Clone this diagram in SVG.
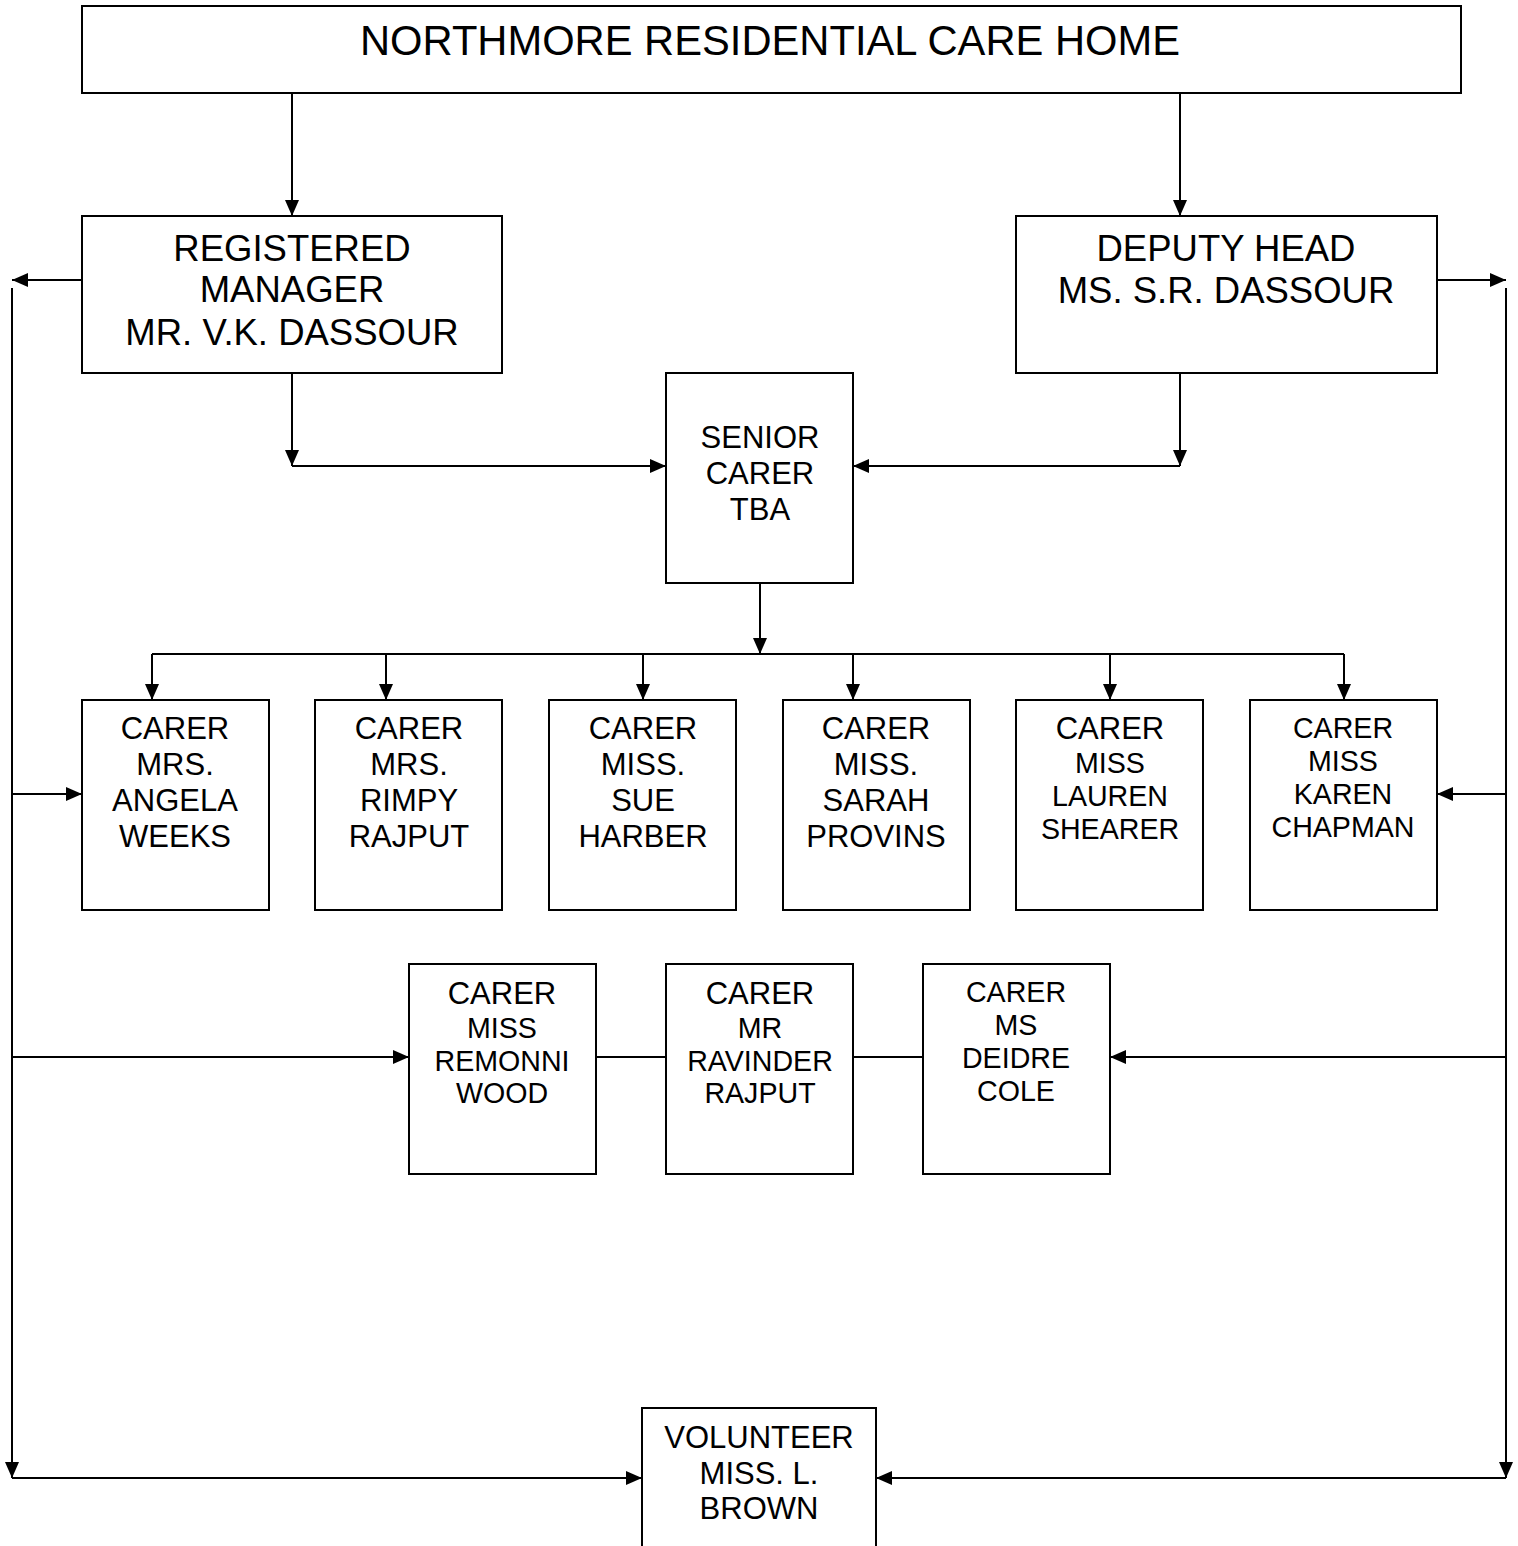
<svg xmlns="http://www.w3.org/2000/svg" width="1518" height="1546" viewBox="0 0 1518 1546">
<style>
.box{fill:#fff;stroke:#000;stroke-width:2}
.ln{fill:none;stroke:#000;stroke-width:2}
text{font-family:"Liberation Sans",Arial,sans-serif;fill:#000;text-anchor:middle}
.t40{font-size:41.7px}
.t34{font-size:36.5px}
.t29{font-size:31px}
.t27{font-size:28.6px}
</style>
<defs>
<marker id="ah" markerUnits="userSpaceOnUse" markerWidth="16" markerHeight="14" refX="16" refY="7" orient="auto" viewBox="0 0 16 14">
<path d="M0,0 L16,7 L0,14 z" fill="#000"/>
</marker>
</defs>
<g id="connectors">
<path class="ln" d="M292,93 V216" marker-end="url(#ah)"/>
<path class="ln" d="M1180,93 V216" marker-end="url(#ah)"/>
<path class="ln" d="M82,280 H12" marker-end="url(#ah)"/>
<path class="ln" d="M1437,280 H1506" marker-end="url(#ah)"/>
<path class="ln" d="M12,288 V1478" marker-end="url(#ah)"/>
<path class="ln" d="M1506,288 V1478" marker-end="url(#ah)"/>
<path class="ln" d="M292,373 V466" marker-end="url(#ah)"/>
<path class="ln" d="M292,466 H666" marker-end="url(#ah)"/>
<path class="ln" d="M1180,373 V466" marker-end="url(#ah)"/>
<path class="ln" d="M1180,466 H853" marker-end="url(#ah)"/>
<path class="ln" d="M760,583 V654" marker-end="url(#ah)"/>
<path class="ln" d="M152,654 H1344"/>
<path class="ln" d="M152,654 V700" marker-end="url(#ah)"/>
<path class="ln" d="M386,654 V700" marker-end="url(#ah)"/>
<path class="ln" d="M643,654 V700" marker-end="url(#ah)"/>
<path class="ln" d="M853,654 V700" marker-end="url(#ah)"/>
<path class="ln" d="M1110,654 V700" marker-end="url(#ah)"/>
<path class="ln" d="M1344,654 V700" marker-end="url(#ah)"/>
<path class="ln" d="M12,794 H82" marker-end="url(#ah)"/>
<path class="ln" d="M1506,794 H1437" marker-end="url(#ah)"/>
<path class="ln" d="M12,1057 H409" marker-end="url(#ah)"/>
<path class="ln" d="M596,1057 H666"/>
<path class="ln" d="M853,1057 H923"/>
<path class="ln" d="M1506,1057 H1110" marker-end="url(#ah)"/>
<path class="ln" d="M12,1478 H642" marker-end="url(#ah)"/>
<path class="ln" d="M1506,1478 H876" marker-end="url(#ah)"/>
</g>
<g id="title">
<rect class="box" x="82" y="6" width="1379" height="87"/>
<text class="t40" x="770" y="55">NORTHMORE RESIDENTIAL CARE HOME</text>
</g>
<g id="registered-manager">
<rect class="box" x="82" y="216" width="420" height="157"/>
<text class="t34" x="292" y="261">REGISTERED</text>
<text class="t34" x="292" y="302">MANAGER</text>
<text class="t34" x="292" y="345">MR. V.K. DASSOUR</text>
</g>
<g id="deputy-head">
<rect class="box" x="1016" y="216" width="421" height="157"/>
<text class="t34" x="1226" y="261">DEPUTY HEAD</text>
<text class="t34" x="1226" y="303">MS. S.R. DASSOUR</text>
</g>
<g id="senior-carer">
<rect class="box" x="666" y="373" width="187" height="210"/>
<text class="t29" x="760" y="448">SENIOR</text>
<text class="t29" x="760" y="484">CARER</text>
<text class="t29" x="760" y="520">TBA</text>
</g>
<g id="carer-angela-weeks">
<rect class="box" x="82" y="700" width="187" height="210"/>
<text class="t29" x="175" y="739">CARER</text>
<text class="t29" x="175" y="775">MRS.</text>
<text class="t29" x="175" y="811">ANGELA</text>
<text class="t29" x="175" y="847">WEEKS</text>
</g>
<g id="carer-rimpy-rajput">
<rect class="box" x="315" y="700" width="187" height="210"/>
<text class="t29" x="409" y="739">CARER</text>
<text class="t29" x="409" y="775">MRS.</text>
<text class="t29" x="409" y="811">RIMPY</text>
<text class="t29" x="409" y="847">RAJPUT</text>
</g>
<g id="carer-sue-harber">
<rect class="box" x="549" y="700" width="187" height="210"/>
<text class="t29" x="643" y="739">CARER</text>
<text class="t29" x="643" y="775">MISS.</text>
<text class="t29" x="643" y="811">SUE</text>
<text class="t29" x="643" y="847">HARBER</text>
</g>
<g id="carer-sarah-provins">
<rect class="box" x="783" y="700" width="187" height="210"/>
<text class="t29" x="876" y="739">CARER</text>
<text class="t29" x="876" y="775">MISS.</text>
<text class="t29" x="876" y="811">SARAH</text>
<text class="t29" x="876" y="847">PROVINS</text>
</g>
<g id="carer-lauren-shearer">
<rect class="box" x="1016" y="700" width="187" height="210"/>
<text class="t29" x="1110" y="739">CARER</text>
<text class="t27" x="1110" y="773">MISS</text>
<text class="t27" x="1110" y="806">LAUREN</text>
<text class="t27" x="1110" y="839">SHEARER</text>
</g>
<g id="carer-karen-chapman">
<rect class="box" x="1250" y="700" width="187" height="210"/>
<text class="t27" x="1343" y="738">CARER</text>
<text class="t27" x="1343" y="771">MISS</text>
<text class="t27" x="1343" y="804">KAREN</text>
<text class="t27" x="1343" y="837">CHAPMAN</text>
</g>
<g id="carer-remonni-wood">
<rect class="box" x="409" y="964" width="187" height="210"/>
<text class="t29" x="502" y="1004">CARER</text>
<text class="t27" x="502" y="1038">MISS</text>
<text class="t27" x="502" y="1071">REMONNI</text>
<text class="t27" x="502" y="1103">WOOD</text>
</g>
<g id="carer-ravinder-rajput">
<rect class="box" x="666" y="964" width="187" height="210"/>
<text class="t29" x="760" y="1004">CARER</text>
<text class="t27" x="760" y="1038">MR</text>
<text class="t27" x="760" y="1071">RAVINDER</text>
<text class="t27" x="760" y="1103">RAJPUT</text>
</g>
<g id="carer-deidre-cole">
<rect class="box" x="923" y="964" width="187" height="210"/>
<text class="t27" x="1016" y="1002">CARER</text>
<text class="t27" x="1016" y="1035">MS</text>
<text class="t27" x="1016" y="1068">DEIDRE</text>
<text class="t27" x="1016" y="1101">COLE</text>
</g>
<g id="volunteer">
<rect class="box" x="642" y="1408" width="234" height="160"/>
<text class="t29" x="759" y="1448">VOLUNTEER</text>
<text class="t29" x="759" y="1484">MISS. L.</text>
<text class="t29" x="759" y="1519">BROWN</text>
</g>
</svg>
